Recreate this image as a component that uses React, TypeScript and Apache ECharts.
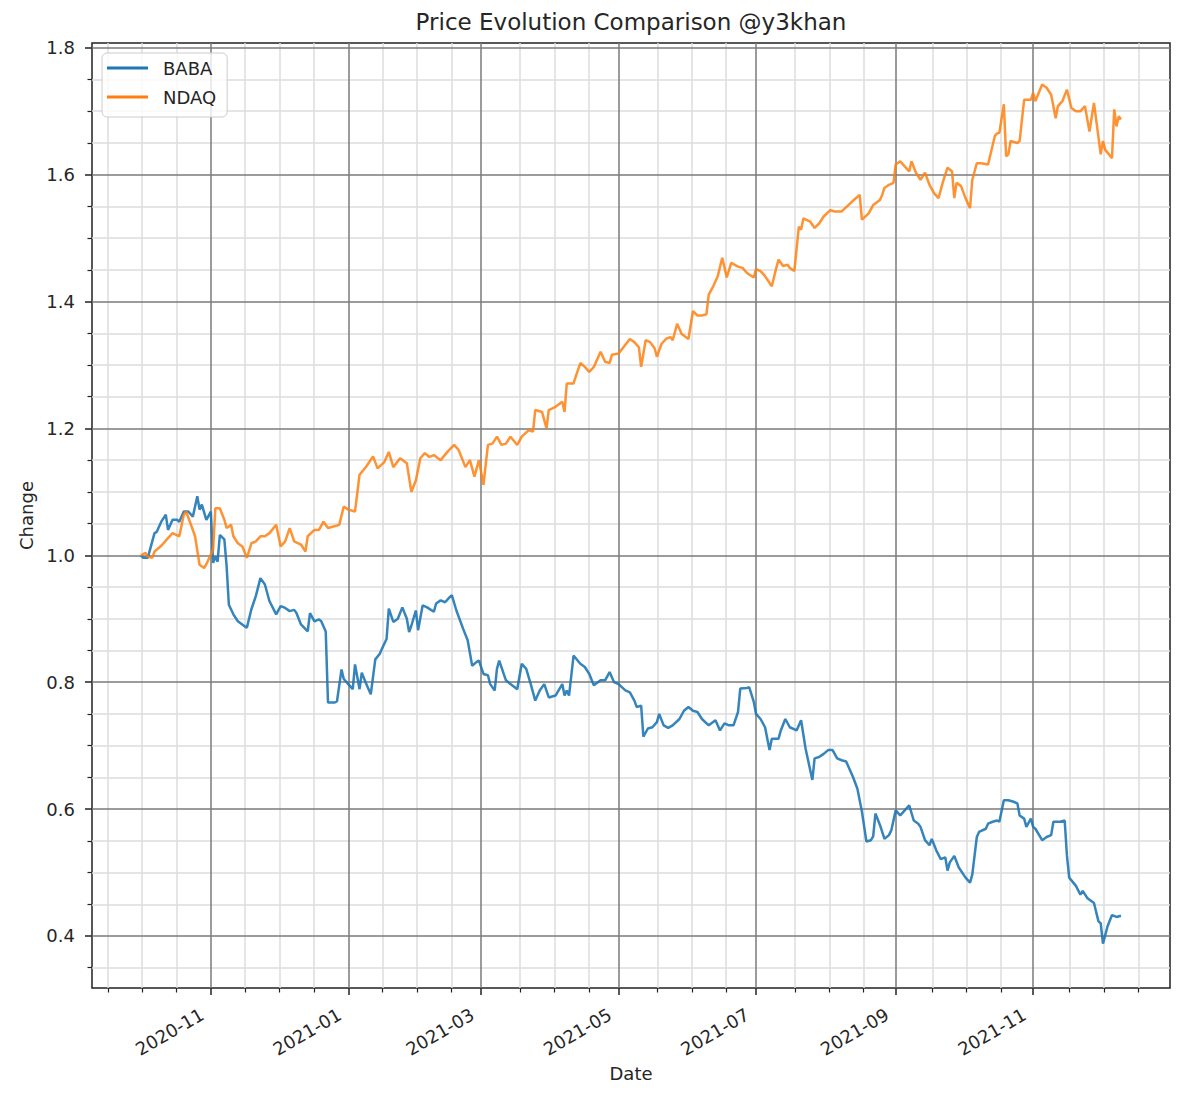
import { useEffect, useRef } from 'react';
import * as echarts from 'echarts';

// day 0 of the day arrays below is 2020-10-01
const START = Date.UTC(2020, 9, 1);
const DAY = 86400000;

const babaDays = [
  0, 1, 3, 4, 6, 7, 9, 11, 12, 14,
  16, 17, 19, 21, 23, 25, 26, 27, 29, 31,
  32, 33, 34, 35, 37, 38, 39, 41, 43, 46,
  47, 49, 51, 53, 55, 57, 60, 62, 64, 66,
  68, 69, 71, 74, 75, 77, 79, 80, 82, 83,
  86, 87, 89, 90, 92, 94, 95, 97, 98, 100,
  102, 104, 106, 107, 109, 110, 112, 114, 116, 118,
  119, 120, 122, 123, 125, 127, 130, 131, 133, 135,
  137, 138, 140, 143, 145, 147, 149, 150, 152, 154,
  155, 157, 158, 159, 161, 162, 164, 167, 169, 171,
  173, 175, 177, 179, 181, 184, 187, 188, 189, 190,
  192, 195, 197, 199, 201, 204, 206, 208, 210, 212,
  215, 217, 219, 220, 222, 223, 225, 227, 229, 230,
  232, 234, 236, 239, 241, 243, 245, 247, 249, 252,
  255, 257, 259, 261, 263, 265, 266, 269, 270, 272,
  273, 275, 277, 279, 280, 283, 284, 286, 288, 291,
  293, 295, 298, 299, 301, 303, 305, 307, 309, 311,
  313, 316, 318, 320, 322, 324, 325, 326, 328, 330,
  332, 333, 335, 337, 339, 341, 343, 345, 346, 348,
  350, 351, 353, 355, 357, 358, 359, 361, 363, 366,
  368, 369, 371, 372, 375, 376, 378, 380, 381, 383,
  385, 387, 389, 390, 392, 393, 395, 396, 397, 400,
  402, 404, 405, 408, 410, 411, 412, 415, 417, 418,
  420, 423, 425, 426, 427, 429, 431, 433, 435,
];
const babaValues = [
  1.0, 0.996, 0.996, 1.009, 1.035, 1.037, 1.053, 1.064, 1.04, 1.056,
  1.056, 1.053, 1.069, 1.069, 1.061, 1.093, 1.072, 1.08, 1.056, 1.069,
  0.988, 0.998, 0.99, 1.032, 1.025, 0.983, 0.922, 0.907, 0.896, 0.888,
  0.886, 0.915, 0.936, 0.964, 0.954, 0.928, 0.907, 0.92, 0.917, 0.912,
  0.914, 0.909, 0.891, 0.88, 0.909, 0.896, 0.899, 0.896, 0.88, 0.768,
  0.768, 0.77, 0.82, 0.805, 0.797, 0.789, 0.828, 0.789, 0.815, 0.797,
  0.781, 0.836, 0.845, 0.853, 0.868, 0.916, 0.895, 0.9, 0.918, 0.9,
  0.879, 0.889, 0.913, 0.882, 0.921, 0.918, 0.911, 0.924, 0.929, 0.926,
  0.934, 0.937, 0.913, 0.884, 0.866, 0.826, 0.832, 0.834, 0.813, 0.811,
  0.797, 0.787, 0.821, 0.834, 0.813, 0.803, 0.797, 0.789, 0.829, 0.821,
  0.797, 0.771, 0.787, 0.797, 0.776, 0.779, 0.797, 0.779, 0.787, 0.779,
  0.842, 0.829, 0.824, 0.813, 0.795, 0.803, 0.803, 0.816, 0.8, 0.797,
  0.787, 0.784, 0.771, 0.761, 0.763, 0.714, 0.727, 0.729, 0.737, 0.75,
  0.732, 0.728, 0.732, 0.742, 0.755, 0.761, 0.755, 0.753, 0.742, 0.732,
  0.74, 0.724, 0.735, 0.732, 0.732, 0.753, 0.79, 0.791, 0.792, 0.769,
  0.75, 0.742, 0.729, 0.693, 0.711, 0.711, 0.724, 0.742, 0.729, 0.724,
  0.74, 0.695, 0.646, 0.68, 0.682, 0.687, 0.693, 0.693, 0.68, 0.677,
  0.675, 0.651, 0.632, 0.596, 0.549, 0.551, 0.557, 0.593, 0.575, 0.553,
  0.559, 0.566, 0.598, 0.59, 0.598, 0.606, 0.582, 0.577, 0.572, 0.551,
  0.543, 0.553, 0.535, 0.521, 0.524, 0.503, 0.516, 0.526, 0.508, 0.492,
  0.484, 0.497, 0.556, 0.564, 0.569, 0.577, 0.58, 0.582, 0.58, 0.614,
  0.614, 0.612, 0.609, 0.59, 0.585, 0.572, 0.585, 0.572, 0.569, 0.551,
  0.556, 0.559, 0.58, 0.58, 0.582, 0.527, 0.492, 0.479, 0.465, 0.471,
  0.46, 0.452, 0.423, 0.42, 0.388, 0.415, 0.433, 0.43, 0.432,
];

const ndaqDays = [
  0, 2, 3, 5, 6, 9, 12, 14, 17, 19,
  20, 22, 24, 26, 28, 29, 32, 33, 35, 37,
  38, 40, 41, 43, 45, 47, 49, 51, 53, 55,
  57, 60, 62, 64, 66, 68, 71, 73, 74, 77,
  79, 81, 83, 85, 88, 90, 92, 95, 97, 100,
  103, 105, 108, 110, 112, 115, 118, 120, 122, 124,
  126, 128, 130, 133, 136, 139, 141, 144, 146, 148,
  150, 152, 154, 156, 158, 160, 162, 164, 167, 169,
  172, 174, 175, 178, 180, 181, 184, 187, 188, 189,
  192, 193, 195, 197, 199, 201, 204, 206, 208, 209,
  212, 215, 217, 219, 221, 222, 224, 226, 228, 229,
  231, 233, 235, 236, 238, 240, 243, 245, 247, 249,
  251, 252, 254, 256, 258, 260, 262, 265, 267, 269,
  272, 273, 275, 277, 280, 282, 283, 285, 287, 288,
  290, 292, 293, 294, 297, 299, 301, 303, 306, 308,
  311, 314, 317, 319, 320, 323, 325, 328, 329, 330,
  332, 334, 335, 337, 339, 341, 342, 344, 346, 348,
  350, 352, 354, 356, 358, 360, 361, 362, 364, 366,
  368, 369, 371, 373, 376, 379, 380, 381, 383, 384,
  385, 386, 389, 390, 392, 395, 396, 397, 400, 402,
  404, 406, 407, 409, 411, 413, 415, 417, 419, 421,
  423, 426, 427, 428, 431, 432, 433, 434, 435,
];
const ndaqValues = [
  1.0, 1.004, 0.998, 0.996, 1.006, 1.015, 1.027, 1.035, 1.03, 1.064,
  1.069, 1.05, 1.03, 0.985, 0.98, 0.986, 1.009, 1.074, 1.074, 1.056,
  1.043, 1.048, 1.03, 1.019, 1.014, 0.996, 1.019, 1.022, 1.03, 1.03,
  1.035, 1.048, 1.014, 1.022, 1.043, 1.022, 1.017, 1.006, 1.03, 1.04,
  1.04, 1.053, 1.043, 1.045, 1.048, 1.077, 1.072, 1.069, 1.127, 1.14,
  1.156, 1.137, 1.147, 1.163, 1.139, 1.153, 1.145, 1.1, 1.118, 1.153,
  1.161, 1.155, 1.158, 1.15, 1.163, 1.174, 1.166, 1.139, 1.15, 1.124,
  1.15, 1.111, 1.174, 1.176, 1.187, 1.174, 1.176, 1.187, 1.174, 1.187,
  1.197, 1.195, 1.229, 1.226, 1.2, 1.229, 1.234, 1.242, 1.226, 1.271,
  1.271, 1.282, 1.303, 1.297, 1.289, 1.297, 1.321, 1.305, 1.303, 1.316,
  1.318, 1.332, 1.341, 1.336, 1.328, 1.297, 1.339, 1.336, 1.326, 1.313,
  1.333, 1.341, 1.344, 1.339, 1.365, 1.349, 1.341, 1.385, 1.378, 1.378,
  1.38, 1.411, 1.424, 1.44, 1.469, 1.438, 1.461, 1.455, 1.453, 1.445,
  1.438, 1.451, 1.448, 1.44, 1.424, 1.453, 1.466, 1.456, 1.458, 1.453,
  1.448, 1.518, 1.513, 1.531, 1.526, 1.516, 1.523, 1.534, 1.544, 1.542,
  1.542, 1.552, 1.562, 1.568, 1.529, 1.539, 1.552, 1.56, 1.568, 1.579,
  1.584, 1.587, 1.616, 1.621, 1.613, 1.605, 1.621, 1.603, 1.592, 1.603,
  1.584, 1.571, 1.563, 1.589, 1.611, 1.605, 1.563, 1.587, 1.582, 1.563,
  1.547, 1.592, 1.618, 1.618, 1.616, 1.661, 1.665, 1.666, 1.711, 1.629,
  1.632, 1.653, 1.65, 1.653, 1.718, 1.718, 1.729, 1.716, 1.742, 1.737,
  1.726, 1.689, 1.708, 1.716, 1.734, 1.705, 1.7, 1.7, 1.708, 1.668,
  1.713, 1.632, 1.653, 1.639, 1.626, 1.703, 1.676, 1.692, 1.687,
];

const majorMonths = ['2020-11-01', '2021-01-01', '2021-03-01', '2021-05-01', '2021-07-01', '2021-09-01', '2021-11-01'];
const yMajorTicks = [0.4, 0.6, 0.8, 1.0, 1.2, 1.4, 1.6, 1.8];

const FONT = 'DejaVu Sans';
const TEXT = '#262626';

export default function App() {
  const ref = useRef<HTMLDivElement>(null);

  useEffect(() => {
    if (!ref.current) return;
    const chart = echarts.init(ref.current, null, { renderer: 'svg' });

    const xMin = START - 21.75 * DAY;
    const xMax = START + 456.75 * DAY;
    const majorTs = majorMonths.map((m) => Date.parse(m));
    // minor ticks: a quarter of the first major step, counted from the first major
    const minorStep = (majorTs[1] - majorTs[0]) / 4;
    const minorTs: number[] = [];
    for (let k = -4; k < 32; k++) {
      const t = majorTs[0] + k * minorStep;
      if (t < xMin || t > xMax) continue;
      if (majorTs.some((m) => Math.abs(m - t) < 3.5 * DAY)) continue;
      minorTs.push(t);
    }
    const yMinorTicks: number[] = [];
    for (let i = 7; i <= 35; i++) if (i % 4 !== 0) yMinorTicks.push(+(i * 0.05).toFixed(2));

    const fmtMonth = (v: number) => {
      const d = new Date(v);
      return `${d.getUTCFullYear()}-${String(d.getUTCMonth() + 1).padStart(2, '0')}`;
    };

    const yMin = 0.318;
    const yMax = 1.8075;

    chart.setOption({
      animation: false,
      backgroundColor: '#fff',
      title: {
        text: 'Price Evolution Comparison @y3khan',
        left: 631,
        top: 22,
        padding: 0,
        textAlign: 'center',
        textVerticalAlign: 'middle',
        textStyle: { fontFamily: FONT, fontSize: 23, fontWeight: 'normal', color: TEXT },
      },
      legend: {
        orient: 'vertical',
        left: 102,
        top: 53,
        padding: [6, 11, 11, 5],
        itemGap: 11,
        itemWidth: 41,
        itemHeight: 3,
        icon: 'rect',
        backgroundColor: 'rgba(255,255,255,0.8)',
        borderColor: '#cccccc',
        borderWidth: 1,
        borderRadius: 5,
        textStyle: { fontFamily: FONT, fontSize: 18, color: TEXT, padding: [0, 0, 0, 10] },
        data: ['BABA', 'NDAQ'],
      },
      grid: {
        left: 92,
        right: 30,
        top: 43,
        bottom: 108,
        show: true,
        borderColor: '#222',
        borderWidth: 1.5,
        backgroundColor: 'transparent',
        outerBoundsMode: 'none',
      },
      xAxis: [
        {
          type: 'value',
          min: xMin,
          max: xMax,
          z: 1,
          axisLine: { show: false },
          axisTick: { show: true, customValues: majorTs, length: 7, lineStyle: { color: '#222', width: 1.5 } },
          axisLabel: {
            customValues: majorTs,
            formatter: fmtMonth,
            rotate: 30,
            margin: 20,
            padding: [0, 10, 0, 0],
            fontFamily: FONT,
            fontSize: 18,
            color: TEXT,
          },
          splitLine: { show: true, lineStyle: { color: '#7a7a7a', width: 1.5 } },
          name: 'Date',
          nameLocation: 'middle',
          nameGap: 76,
          nameTextStyle: { fontFamily: FONT, fontSize: 18, color: TEXT },
        },
        {
          type: 'value',
          min: xMin,
          max: xMax,
          position: 'bottom',
          z: 0,
          axisLine: { show: false },
          axisTick: { show: true, customValues: minorTs, length: 4.5, lineStyle: { color: '#222', width: 1.2 } },
          axisLabel: { show: false },
          splitLine: { show: true, lineStyle: { color: '#dddddd', width: 1.5 } },
        },
      ],
      yAxis: [
        {
          type: 'value',
          min: yMin,
          max: yMax,
          z: 1,
          axisLine: { show: false },
          axisTick: { show: true, customValues: yMajorTicks, length: 7, lineStyle: { color: '#222', width: 1.5 } },
          axisLabel: {
            customValues: yMajorTicks,
            formatter: (v: number) => v.toFixed(1),
            margin: 17,
            fontFamily: FONT,
            fontSize: 18,
            color: TEXT,
          },
          splitLine: { show: true, lineStyle: { color: '#7a7a7a', width: 1.5 } },
          name: 'Change',
          nameLocation: 'middle',
          nameRotate: 90,
          nameGap: 56,
          nameTextStyle: { fontFamily: FONT, fontSize: 18, color: TEXT },
        },
        {
          type: 'value',
          min: yMin,
          max: yMax,
          position: 'left',
          z: 0,
          axisLine: { show: false },
          axisTick: { show: true, customValues: yMinorTicks, length: 4.5, lineStyle: { color: '#222', width: 1.2 } },
          axisLabel: { show: false },
          splitLine: { show: true, lineStyle: { color: '#dddddd', width: 1.5 } },
        },
      ],
      series: [
        {
          name: 'BABA',
          type: 'line',
          xAxisIndex: 0,
          yAxisIndex: 0,
          z: 3,
          color: '#1f77b4',
          showSymbol: false,
          lineStyle: { width: 2.5, opacity: 0.9 },
          data: babaDays.map((d, i) => [START + d * DAY, babaValues[i]]),
        },
        {
          name: 'NDAQ',
          type: 'line',
          xAxisIndex: 0,
          yAxisIndex: 0,
          z: 4,
          color: '#ff7f0e',
          showSymbol: false,
          lineStyle: { width: 2.5, opacity: 0.85 },
          data: ndaqDays.map((d, i) => [START + d * DAY, ndaqValues[i]]),
        },
      ],
    });

    return () => chart.dispose();
  }, []);

  return <div ref={ref} style={{ position: 'absolute', left: 0, top: 0, width: 1200, height: 1096 }} />;
}
